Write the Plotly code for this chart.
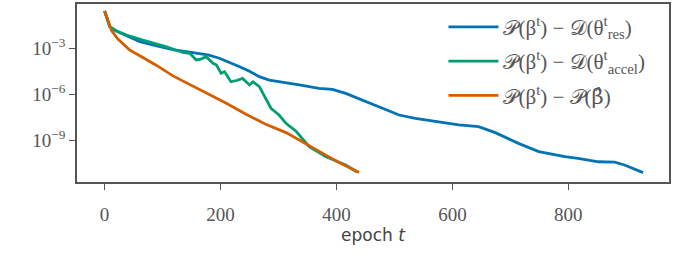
import numpy as np
import plotly.graph_objects as go

# x = epoch, values given as log10 of the gap
blue_x = [0, 5, 9, 20, 38, 61, 90, 120, 141, 164, 180, 198, 221, 233, 250, 267, 284, 307, 336, 370, 393, 416, 450, 479, 508, 536, 576, 611, 645, 674, 714, 749, 794, 817, 852, 880, 897, 929]
blue_log10 = [-0.57, -1.2, -1.6, -1.87, -2.17, -2.57, -2.85, -3.1, -3.22, -3.33, -3.45, -3.65, -4.0, -4.2, -4.5, -4.85, -5.07, -5.2, -5.39, -5.61, -5.68, -5.94, -6.48, -6.91, -7.35, -7.57, -7.79, -8.0, -8.11, -8.5, -9.2, -9.74, -10.07, -10.18, -10.4, -10.42, -10.61, -11.11]

green_x = [0, 5, 9, 20, 38, 66, 90, 107, 135, 147, 158, 166, 175, 187, 193, 201, 207, 218, 228, 238, 250, 256, 267, 277, 287, 301, 313, 330, 353, 382, 416, 435]
green_log10 = [-0.57, -1.2, -1.59, -1.85, -2.13, -2.46, -2.72, -2.9, -3.27, -3.33, -3.76, -3.7, -3.55, -3.98, -4.09, -4.63, -4.53, -5.18, -5.1, -4.96, -5.39, -5.18, -5.5, -6.2, -6.91, -7.35, -7.89, -8.4, -9.42, -10.07, -10.61, -11.05]

orange_x = [0, 6, 12, 23, 43, 66, 89, 118, 152, 181, 210, 244, 278, 313, 347, 381, 402, 420, 439]
orange_log10 = [-0.57, -1.26, -1.85, -2.4, -3.1, -3.6, -4.1, -4.8, -5.45, -6.0, -6.59, -7.3, -7.95, -8.5, -9.25, -9.95, -10.4, -10.75, -11.1]

series_names = [
    "𝒫(β<sup>t</sup>) − 𝒟(θ<sup>t</sup><sub>res</sub>)",
    "𝒫(β<sup>t</sup>) − 𝒟(θ<sup>t</sup><sub>accel</sub>)",
    "𝒫(β<sup>t</sup>) − 𝒫(<span style=\"font-family:'DejaVu Serif'\">β̂</span>)",
]
colors = ["#0173B2", "#029E73", "#D55E00"]

x_ticks = [0, 200, 400, 600, 800]
y_ticks = [1e-3, 1e-6, 1e-9]
y_ticktext = ["10<sup>−3</sup>", "10<sup>−6</sup>", "10<sup>−9</sup>"]

SERIF = "Liberation Serif"

fig = go.Figure()
for i, (xs, ls, name, c) in enumerate([
    (blue_x, blue_log10, series_names[0], colors[0]),
    (green_x, green_log10, series_names[1], colors[1]),
    (orange_x, orange_log10, series_names[2], colors[2]),
]):
    fig.add_trace(go.Scatter(x=xs, y=np.power(10.0, ls), mode="lines", name=name,
                             legendgroup=f"g{i}",
                             line=dict(color=c, width=2.8)))

axis_common = dict(showline=True, linecolor="#555", linewidth=1.5, mirror=True,
                   showgrid=False, zeroline=False, ticks="outside", ticklen=6,
                   tickwidth=1.3, tickcolor="#555",
                   tickfont=dict(family=SERIF, size=19, color="#555"))

fig.update_layout(
    width=673, height=254,
    margin=dict(l=77, r=2, t=4, b=72),
    plot_bgcolor="white", paper_bgcolor="white",
    font=dict(family=SERIF),
    showlegend=True,
    legend=dict(x=0.619, y=0.985, xanchor="left", yanchor="top",
                bgcolor="rgba(0,0,0,0)", tracegroupgap=4, itemwidth=50,
                font=dict(family=SERIF, size=21, color="#555")),
    xaxis=dict(range=[-47.6, 973.7], tickvals=x_ticks, ticklabelstandoff=8,
               title=dict(text="epoch <i>t</i>", standoff=4,
                          font=dict(family="DejaVu Sans", size=17, color="#444")),
               **axis_common),
    yaxis=dict(type="log", range=[-11.72, -0.11], tickvals=y_ticks, ticktext=y_ticktext,
               **axis_common),
)

fig.write_html("out.html")
